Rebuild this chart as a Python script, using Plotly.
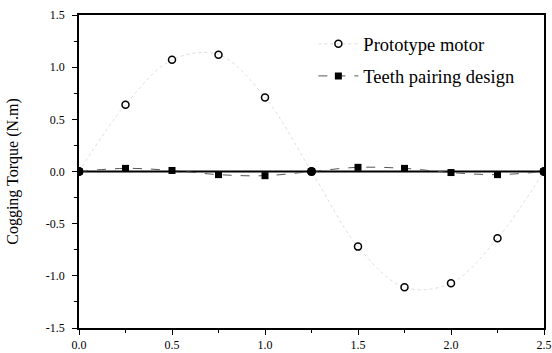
import plotly.graph_objects as go

x_vals = [0.0, 0.25, 0.5, 0.75, 1.0, 1.25, 1.5, 1.75, 2.0, 2.25, 2.5]
prototype = [0.0, 0.64, 1.07, 1.12, 0.71, 0.0, -0.72, -1.11, -1.07, -0.64, 0.0]
teeth = [0.0, 0.03, 0.01, -0.03, -0.04, 0.0, 0.04, 0.03, -0.01, -0.03, 0.0]
y_ticks = [-1.5, -1.0, -0.5, 0.0, 0.5, 1.0, 1.5]
y_tick_text = ["-1.5", "-1.0", "-0.5", "0.0", "0.5", "1.0", "1.5"]
x_ticks = [0.0, 0.5, 1.0, 1.5, 2.0, 2.5]
x_tick_text = ["0.0", "0.5", "1.0", "1.5", "2.0", "2.5"]

font_family = "Liberation Serif"

fig = go.Figure()

# zero line
fig.add_trace(go.Scatter(
    x=[x_vals[0], x_vals[-1]], y=[0, 0], mode="lines",
    line=dict(color="black", width=2.2), showlegend=False, hoverinfo="skip"))

fig.add_trace(go.Scatter(
    x=x_vals, y=prototype, mode="lines+markers", name="Prototype motor",
    legendgroup="a",
    line=dict(color="#d0d0d0", width=0.7, dash="dot", shape="spline"),
    marker=dict(symbol="circle-open", size=7, color="black", line=dict(width=1.5))))

fig.add_trace(go.Scatter(
    x=x_vals, y=teeth, mode="lines+markers", name="Teeth pairing design",
    legendgroup="b",
    line=dict(color="#555555", width=1, dash="dash", shape="spline"),
    marker=dict(symbol="square", size=7, color="black")))

# emphasised points on zero
fig.add_trace(go.Scatter(
    x=[x_vals[0], x_vals[5], x_vals[-1]], y=[teeth[0], teeth[5], teeth[-1]],
    mode="markers", marker=dict(symbol="circle", size=9, color="black"),
    showlegend=False, hoverinfo="skip"))

axis_common = dict(
    showline=True, linecolor="black", linewidth=1.5, mirror=True,
    ticks="outside", ticklen=5, tickwidth=1.2, tickcolor="black",
    showgrid=False, zeroline=False, automargin=False,
    tickfont=dict(family=font_family, size=12, color="black"),
    minor=dict(ticks="outside", ticklen=3, tickcolor="black", tickwidth=1, dtick=0.25),
)

fig.update_xaxes(range=[0, 2.5], tickvals=x_ticks, ticktext=x_tick_text, **axis_common)
fig.update_yaxes(range=[-1.5, 1.5], tickvals=y_ticks, ticktext=y_tick_text,
                 ticklabelstandoff=5,
                 title=dict(text="Cogging Torque (N.m)", font=dict(family=font_family, size=16, color="black"), standoff=23),
                 **axis_common)

fig.update_layout(
    width=552, height=353,
    margin=dict(l=79, r=8, t=15, b=25),
    plot_bgcolor="white", paper_bgcolor="white",
    font=dict(family=font_family, color="black"),
    xaxis2=dict(overlaying="x", side="top", range=[0, 2.5], dtick=0.25, tick0=0,
                ticks="inside", ticklen=4, tickwidth=1.2, tickcolor="black",
                showticklabels=False, showgrid=False, zeroline=False, showline=False),
    legend=dict(x=0.504, y=0.967, xanchor="left", yanchor="top",
                bgcolor="rgba(0,0,0,0)", font=dict(family=font_family, size=18.5, color="black"),
                tracegroupgap=5, itemwidth=40),
)

fig.write_html("out.html", config={"displayModeBar": False},
               post_script="document.body.style.margin='0';document.body.style.overflow='hidden';")
